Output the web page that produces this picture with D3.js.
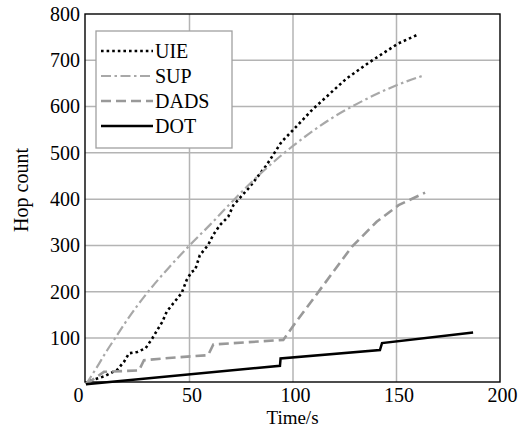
<!DOCTYPE html>
<html>
<head>
<meta charset="utf-8">
<script src="https://cdn.jsdelivr.net/npm/d3@7"></script>
<style>
  body { margin: 0; background: #fff; }
  svg text { font-family: "Liberation Serif", "Times New Roman", serif; }
</style>
</head>
<body>
<div class="chart"></div>
<script>
const width = 526,
    height = 430,
    margin = { top: 14, right: 26, bottom: 48, left: 85 };

// series: [time (s), hop count]
const uie = [
    [0, 0], [2.3, 8], [8.7, 17], [15, 31], [18.4, 49], [20.8, 67], [24.8, 70],
    [28.8, 78], [32, 99], [34.4, 117], [36.9, 135], [39, 157], [42.2, 175],
    [46.2, 197], [48.6, 225], [51, 243], [52.7, 247], [55, 279], [59, 301],
    [61.5, 323], [64.7, 344], [68.7, 362], [71.2, 387], [79.2, 427], [87.3, 474],
    [94.5, 524], [100.8, 553], [109.7, 595], [125.7, 660], [137, 696],
    [150.7, 736], [159.6, 754]
];
const sup = [
    [0, 0], [5, 35], [10, 72], [15, 106], [20, 140], [30, 200], [40, 252],
    [50, 300], [60, 345], [70, 392], [85, 458], [100, 515], [117, 570],
    [134, 613], [150, 646], [163, 667]
];
const dads = [
    [0, 0], [8.7, 27], [25.6, 30], [28, 52], [40, 57], [59, 63], [61.5, 86],
    [95.3, 96], [101, 132], [113, 204], [128.4, 297], [140.4, 351],
    [151, 387], [163.8, 414]
];
const dot = [
    [0, 0], [93.7, 40], [94, 56], [142, 74], [143, 89], [187, 112]
];

const seriesNames = ["UIE", "SUP", "DADS", "DOT"];
const xTicks = [0, 50, 100, 150, 200];
const yTicks = [100, 200, 300, 400, 500, 600, 700, 800];

const styles = {
    UIE: { color: "#000", width: 2.6, dash: "2.6 3", curve: d3.curveLinear },
    SUP: { color: "#a8a8a8", width: 2.2, dash: "10 3.5 2.5 3.5", curve: d3.curveMonotoneX },
    DADS: { color: "#999", width: 2.6, dash: "10 5", curve: d3.curveLinear },
    DOT: { color: "#000", width: 2.5, dash: null, curve: d3.curveLinear }
};

const x = d3.scaleLinear()
    .domain([0, 200])
    .range([margin.left + 1, width - margin.right]);

const y = d3.scaleLinear()
    .domain([5, 800])
    .range([height - margin.bottom, margin.top]);

const svg = d3.select(".chart")
    .append("svg")
    .attr("width", width)
    .attr("height", height);

// grid
svg.append("g")
    .selectAll("line")
    .data(xTicks.slice(1, -1))
    .join("line")
    .attr("x1", d => x(d)).attr("x2", d => x(d))
    .attr("y1", y(800)).attr("y2", y(5))
    .attr("stroke", "#b4b4b4")
    .attr("stroke-width", 1.5);

svg.append("g")
    .selectAll("line")
    .data(yTicks.slice(0, -1))
    .join("line")
    .attr("x1", margin.left).attr("x2", width - margin.right)
    .attr("y1", d => y(d)).attr("y2", d => y(d))
    .attr("stroke", "#b4b4b4")
    .attr("stroke-width", 1.5);

// axes (labels only, frame drawn below)
const xAxis = d3.axisBottom(x).tickValues(xTicks).tickSize(0);
const yAxis = d3.axisLeft(y).tickValues(yTicks).tickSize(0).tickPadding(5);

const xAxisGroup = svg.append("g")
    .attr("transform", `translate(0, ${y(5)})`)
    .call(xAxis);
xAxisGroup.select(".domain").remove();
xAxisGroup.selectAll("text")
    .attr("font-size", 20)
    .attr("fill", "#000")
    .attr("y", 20)
    .attr("dy", 0)
    .attr("dx", d => d === 0 ? -8 : 2);

const yAxisGroup = svg.append("g")
    .attr("transform", `translate(${margin.left}, 0)`)
    .call(yAxis);
yAxisGroup.select(".domain").remove();
yAxisGroup.selectAll("text")
    .attr("font-size", 20)
    .attr("fill", "#000");

// frame
svg.append("rect")
    .attr("x", margin.left)
    .attr("y", y(800))
    .attr("width", width - margin.right - margin.left)
    .attr("height", y(5) - y(800))
    .attr("fill", "none")
    .attr("stroke", "#000")
    .attr("stroke-width", 1.4);

// lines
const data = { UIE: uie, SUP: sup, DADS: dads, DOT: dot };

seriesNames.forEach(name => {
    const s = styles[name];
    const line = d3.line()
        .x(d => x(d[0]))
        .y(d => y(d[1]))
        .curve(s.curve);
    svg.append("path")
        .datum(data[name])
        .attr("d", line)
        .attr("fill", "none")
        .attr("stroke", s.color)
        .attr("stroke-width", s.width)
        .attr("stroke-dasharray", s.dash);
});

// axis titles
svg.append("text")
    .text("Time/s")
    .attr("x", (margin.left + width - margin.right) / 2)
    .attr("y", 424)
    .attr("text-anchor", "middle")
    .attr("font-size", 19);

svg.append("text")
    .text("Hop count")
    .attr("transform", `translate(28, 190) rotate(-90)`)
    .attr("text-anchor", "middle")
    .attr("font-size", 20);

// legend
const legend = svg.append("g");
legend.append("rect")
    .attr("x", 96).attr("y", 31)
    .attr("width", 136).attr("height", 117)
    .attr("fill", "#fff")
    .attr("stroke", "#a0a0a0")
    .attr("stroke-width", 1.3);

seriesNames.forEach((name, i) => {
    const s = styles[name];
    const ly = 51 + i * 25;
    legend.append("line")
        .attr("x1", 101).attr("x2", 153)
        .attr("y1", ly).attr("y2", ly)
        .attr("stroke", s.color)
        .attr("stroke-width", s.width)
        .attr("stroke-dasharray", s.dash);
    legend.append("text")
        .text(name)
        .attr("x", 155)
        .attr("y", ly + 6.5)
        .attr("font-size", 20);
});
</script>
</body>
</html>
